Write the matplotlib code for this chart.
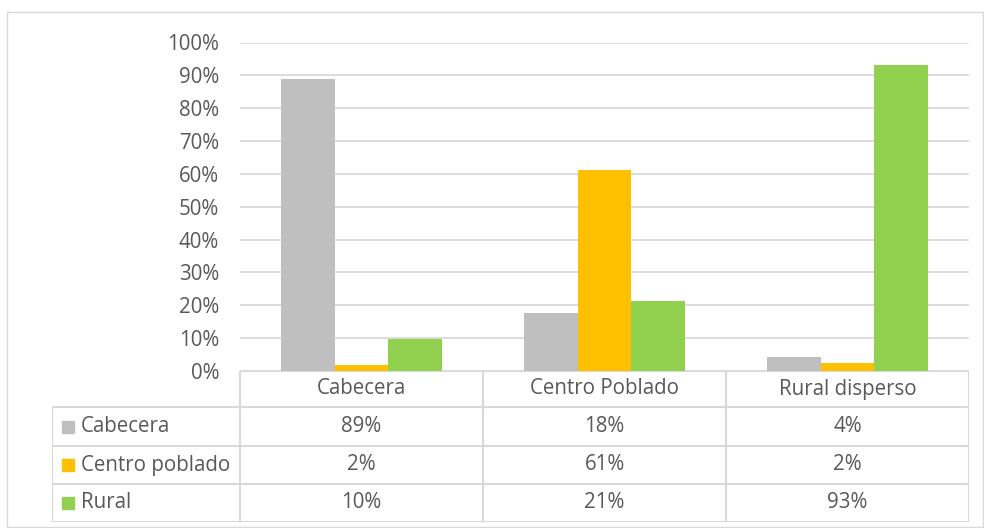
import numpy as np
import matplotlib
matplotlib.use("Agg")
import matplotlib.pyplot as plt
from matplotlib.patches import Rectangle

plt.rcParams['font.family'] = ['Open Sans', 'DejaVu Sans']

categories = ['Cabecera', 'Centro Poblado', 'Rural disperso']
series = ['Cabecera', 'Centro poblado', 'Rural']
values = [
    [0.888, 0.178, 0.044],   # Cabecera
    [0.018, 0.612, 0.024],   # Centro poblado
    [0.097, 0.213, 0.931],   # Rural
]
table_labels = [
    ['89%', '18%', '4%'],
    ['2%', '61%', '2%'],
    ['10%', '21%', '93%'],
]
colors = ['#BFBFBF', '#FFC000', '#92D050']
txt = '#595959'
line = '#D9D9D9'
fs = 14.8

W, H = 984, 528
fig = plt.figure(figsize=(W / 100, H / 100), dpi=100)

def fx(px):
    return px / W

def fy(py):
    return 1 - py / H

# outer chart border
fig.patches.append(Rectangle((fx(7), fy(527)), fx(976), fy(12) - fy(527),
                             transform=fig.transFigure, fill=False,
                             edgecolor=line, lw=1))

# bar area
ax = fig.add_axes([fx(240), fy(371), fx(969) - fx(240), fy(42.5) - fy(371)])
x = np.arange(len(categories))
bw = 0.222
for i, s in enumerate(series):
    ax.bar(x + (i - 1) * bw, values[i], bw, color=colors[i], zorder=3)
ax.set_xlim(-0.5, 2.5)
ax.set_ylim(0, 1)
ax.set_yticks(np.arange(0, 1.01, 0.1))
ax.set_yticklabels([f'{int(round(v * 100))}%' for v in np.arange(0, 1.01, 0.1)],
                   fontsize=fs, color=txt)
ax.tick_params(axis='y', length=0, pad=15)
ax.set_xticks([])
ax.grid(axis='y', color=line, lw=1.3, zorder=0)
for sp in ax.spines.values():
    sp.set_visible(False)

# data table
lab_w = (240 - 52) / 243.0
tab = fig.add_axes([fx(52), fy(522), fx(969) - fx(52), fy(371) - fy(522)])
tab.set_xlim(-0.5 - lab_w, 2.5)
tab.set_ylim(522, 371)
tab.axis('off')
row_y = [371, 407, 446, 484, 522]
lk = dict(color=line, lw=1.5, solid_capstyle='butt')
tab.plot([-0.5, 2.5], [371, 371], **lk)
for yy in row_y[1:]:
    tab.plot([-0.5 - lab_w, 2.5], [yy, yy], **lk)
for xx in [-0.5, 0.5, 1.5, 2.5]:
    tab.plot([xx, xx], [371, 522], **lk)
tab.plot([-0.5 - lab_w, -0.5 - lab_w], [407, 522], **lk)

for j, c in enumerate(categories):
    tab.text(j, (row_y[0] + row_y[1]) / 2, c, ha='center', va='center',
             fontsize=fs, color=txt)
for i, s in enumerate(series):
    yc = (row_y[i + 1] + row_y[i + 2]) / 2
    x0 = -0.5 - lab_w + 10 / 243
    tab.add_patch(Rectangle((x0, yc - 6), 12 / 243, 12, color=colors[i],
                            clip_on=False))
    tab.text(x0 + 19 / 243, yc, s, ha='left', va='center', fontsize=fs, color=txt)
    for j in range(len(categories)):
        tab.text(j, yc, table_labels[i][j], ha='center', va='center',
                 fontsize=fs, color=txt)

fig.savefig('out.png', dpi=100, facecolor='white')
